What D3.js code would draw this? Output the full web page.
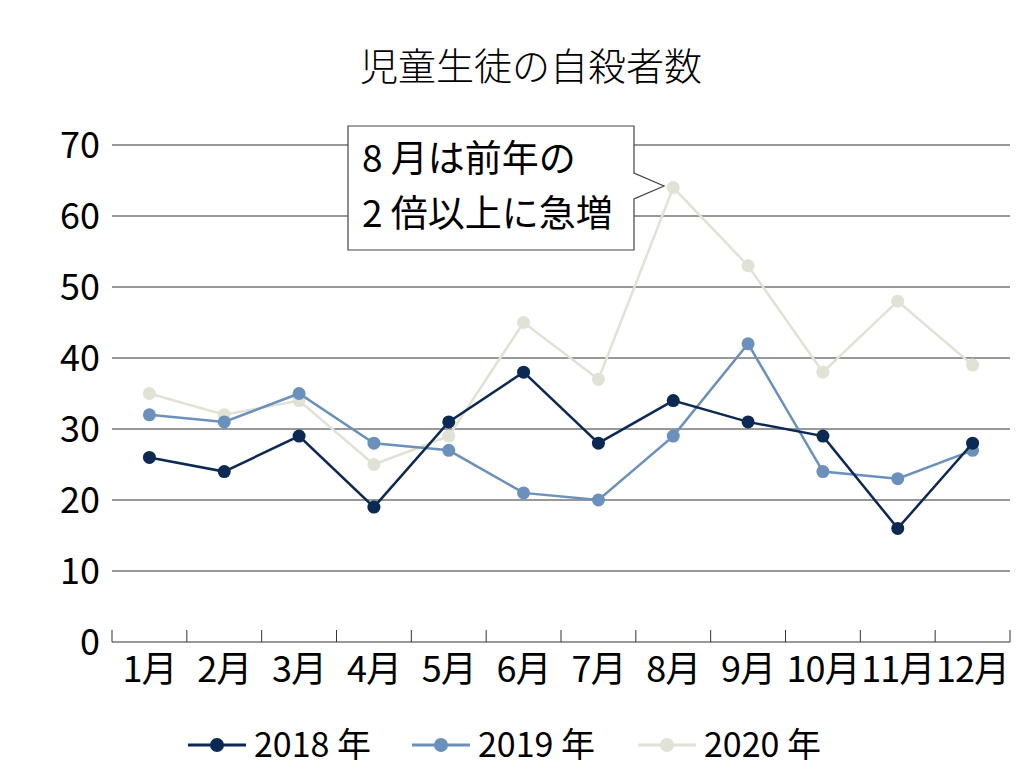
<!DOCTYPE html>
<html><head><meta charset="utf-8">
<script src="https://cdn.jsdelivr.net/npm/d3@7"></script>
<style>body{margin:0;background:#fff}text{font-family:"Noto Sans CJK JP","Noto Sans",sans-serif}</style>
</head><body>
<script>
var months = ["1月","2月","3月","4月","5月","6月","7月","8月","9月","10月","11月","12月"];
var s2018 = [26,24,29,19,31,38,28,34,31,29,16,28];
var s2019 = [32,31,35,28,27,21,20,29,42,24,23,27];
var s2020 = [35,32,34,25,29,45,37,64,53,38,48,39];
var yTicks = [0,10,20,30,40,50,60,70];
var series = [
  {name:"2020 年", values:s2020, color:"#dfe2d5"},
  {name:"2019 年", values:s2019, color:"#6b90bc"},
  {name:"2018 年", values:s2018, color:"#0c2953"}
];

var svg = d3.select("body").append("svg").attr("width",1024).attr("height",768);

var x = d3.scaleBand().domain(months).range([112,1010]);
var y = d3.scaleLinear().domain([0,70]).range([642,145]);

svg.append("text").attr("x",531).attr("y",80).attr("text-anchor","middle")
  .attr("font-size",38).attr("font-weight",300).text("児童生徒の自殺者数");

// grid
svg.selectAll(".grid").data(yTicks.slice(1)).enter().append("line")
  .attr("x1",112).attr("x2",1010).attr("y1",d=>y(d)).attr("y2",d=>y(d))
  .attr("stroke","#333").attr("stroke-width",1);

svg.selectAll(".yl").data(yTicks).enter().append("text")
  .attr("x",100).attr("y",d=>y(d)+13).attr("text-anchor","end")
  .attr("font-size",36).text(d=>d);

// x axis
svg.append("line").attr("x1",112).attr("x2",1010).attr("y1",642).attr("y2",642).attr("stroke","#333");
svg.selectAll(".xt").data(months.concat(["end"])).enter().append("line")
  .attr("x1",(d,i)=>112+i*x.step()).attr("x2",(d,i)=>112+i*x.step())
  .attr("y1",630).attr("y2",642).attr("stroke","#333");
svg.selectAll(".xl").data(months).enter().append("text")
  .attr("x",d=>x(d)+x.bandwidth()/2).attr("y",682).attr("text-anchor","middle")
  .attr("font-size",36).attr("letter-spacing",-1).text(d=>d);

var line = d3.line().x((d,i)=>x(months[i])+x.bandwidth()/2).y(d=>y(d));
series.forEach(function(s){
  svg.append("path").attr("d",line(s.values)).attr("fill","none")
    .attr("stroke",s.color).attr("stroke-width",2.5);
  svg.selectAll(null).data(s.values).enter().append("circle")
    .attr("cx",(d,i)=>x(months[i])+x.bandwidth()/2).attr("cy",d=>y(d))
    .attr("r",6.5).attr("fill",s.color);
});

// callout
svg.append("path")
  .attr("d","M348,126 H634 V173 L664,186 L634,199 V250 H348 Z")
  .attr("fill","#fff").attr("stroke","#444").attr("stroke-width",1.2);
svg.append("text").attr("x",362).attr("y",172).attr("font-size",37).text("8 月は前年の");
svg.append("text").attr("x",362).attr("y",227).attr("font-size",37).text("2 倍以上に急増");

// legend
var leg = [series[2],series[1],series[0]];
var lx = [188,412,638];
leg.forEach(function(s,i){
  var g = svg.append("g").attr("transform","translate("+lx[i]+",745)");
  g.append("line").attr("x1",0).attr("x2",58).attr("stroke",s.color).attr("stroke-width",3);
  g.append("circle").attr("cx",29).attr("r",7).attr("fill",s.color);
  g.append("text").attr("x",66).attr("y",12).attr("font-size",34).text(s.name);
});
</script>
</body></html>
